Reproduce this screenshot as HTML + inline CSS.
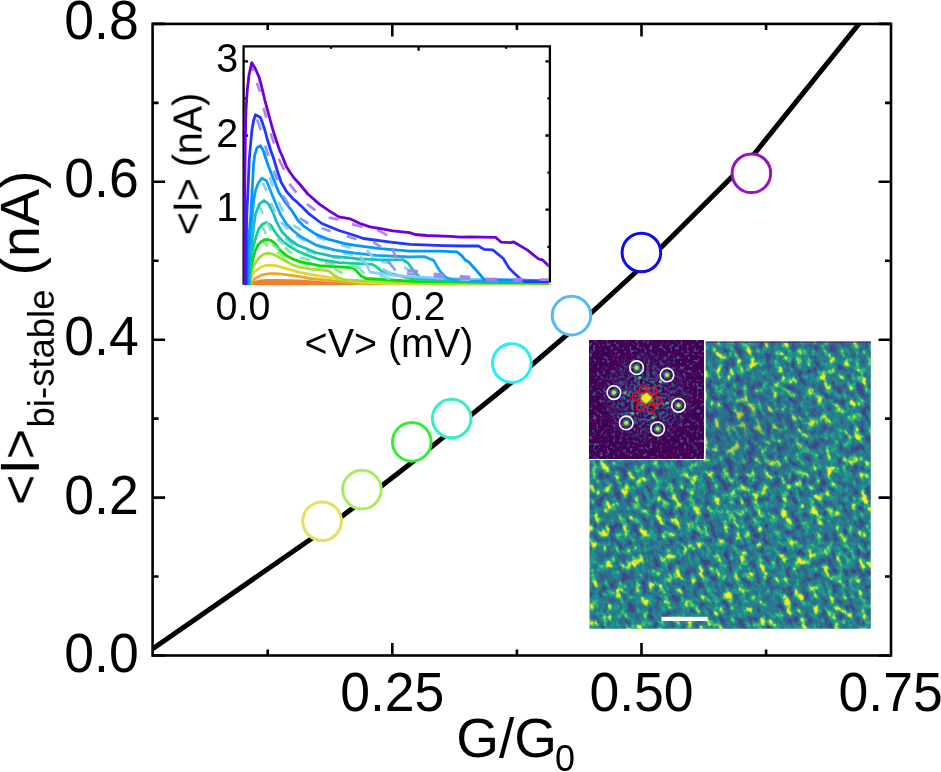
<!DOCTYPE html><html><head><meta charset="utf-8"><style>html,body{margin:0;padding:0;background:#fff;overflow:hidden}svg{display:block}text{will-change:transform}</style></head><body>
<svg width="941" height="772" viewBox="0 0 941 772">
<rect width="941" height="772" fill="#fff"/>
<defs>
<filter id="stm" x="0" y="0" width="100%" height="100%" color-interpolation-filters="sRGB"><feTurbulence type="fractalNoise" baseFrequency="0.14 0.1" numOctaves="3" seed="3"/><feColorMatrix type="matrix" values="1 0 0 0 0  1 0 0 0 0  1 0 0 0 0  0 0 0 0 1"/><feComponentTransfer><feFuncR type="linear" slope="2.1" intercept="-0.55"/><feFuncG type="linear" slope="2.1" intercept="-0.55"/><feFuncB type="linear" slope="2.1" intercept="-0.55"/></feComponentTransfer><feComponentTransfer><feFuncR type="table" tableValues="0.255 0.255 0.208 0.208 0.208 0.208 0.165 0.165 0.165 0.165 0.165 0.129 0.129 0.129 0.133 0.133 0.267 0.267 0.478 0.741 0.992"/><feFuncG type="table" tableValues="0.267 0.267 0.373 0.373 0.373 0.373 0.471 0.471 0.471 0.471 0.471 0.569 0.569 0.569 0.659 0.659 0.749 0.749 0.820 0.875 0.906"/><feFuncB type="table" tableValues="0.529 0.529 0.553 0.553 0.553 0.553 0.557 0.557 0.557 0.557 0.557 0.549 0.549 0.549 0.518 0.518 0.439 0.439 0.318 0.149 0.145"/></feComponentTransfer><feGaussianBlur stdDeviation="0.6"/></filter>
<filter id="fft" x="0" y="0" width="100%" height="100%" color-interpolation-filters="sRGB"><feTurbulence type="fractalNoise" baseFrequency="0.3" numOctaves="2" seed="3"/><feColorMatrix type="matrix" values="1 0 0 0 0  1 0 0 0 0  1 0 0 0 0  0 0 0 0 1"/><feComponentTransfer><feFuncR type="linear" slope="2.4" intercept="-0.75"/><feFuncG type="linear" slope="2.4" intercept="-0.75"/><feFuncB type="linear" slope="2.4" intercept="-0.75"/></feComponentTransfer><feComponentTransfer><feFuncR type="table" tableValues="0.267 0.267 0.267 0.267 0.267 0.267 0.267 0.267 0.267 0.267 0.267 0.282 0.282 0.255 0.255 0.208"/><feFuncG type="table" tableValues="0.004 0.004 0.004 0.004 0.004 0.004 0.004 0.004 0.004 0.004 0.004 0.141 0.141 0.267 0.267 0.373"/><feFuncB type="table" tableValues="0.329 0.329 0.329 0.329 0.329 0.329 0.329 0.329 0.329 0.329 0.329 0.459 0.459 0.529 0.529 0.553"/></feComponentTransfer></filter>
<filter id="fft2" x="0" y="0" width="100%" height="100%" color-interpolation-filters="sRGB"><feTurbulence type="fractalNoise" baseFrequency="0.32" numOctaves="2" seed="5"/><feColorMatrix type="matrix" values="1 0 0 0 0  1 0 0 0 0  1 0 0 0 0  0 0 0 0 1"/><feComponentTransfer><feFuncR type="linear" slope="2.4" intercept="-0.7"/><feFuncG type="linear" slope="2.4" intercept="-0.7"/><feFuncB type="linear" slope="2.4" intercept="-0.7"/></feComponentTransfer><feComponentTransfer><feFuncR type="table" tableValues="0.267 0.267 0.267 0.267 0.267 0.282 0.282 0.255 0.255 0.208 0.208 0.165 0.165 0.129"/><feFuncG type="table" tableValues="0.004 0.004 0.004 0.004 0.004 0.141 0.141 0.267 0.267 0.373 0.373 0.471 0.471 0.569"/><feFuncB type="table" tableValues="0.329 0.329 0.329 0.329 0.329 0.459 0.459 0.529 0.529 0.553 0.553 0.557 0.557 0.549"/></feComponentTransfer></filter>
<radialGradient id="fftrad" cx="646.2" cy="398" r="48" gradientUnits="userSpaceOnUse"><stop offset="0" stop-color="#fff" stop-opacity="1"/><stop offset="0.5" stop-color="#fff" stop-opacity="0.7"/><stop offset="1" stop-color="#fff" stop-opacity="0"/></radialGradient>
<radialGradient id="glow"><stop offset="0" stop-color="#fde725"/><stop offset="0.5" stop-color="#b5de2b" stop-opacity="0.8"/><stop offset="1" stop-color="#21918c" stop-opacity="0"/></radialGradient>
<clipPath id="inclip"><rect x="243.6" y="46.3" width="306.29999999999995" height="237.59999999999997"/></clipPath>
<clipPath id="mainclip"><rect x="152.6" y="23.9" width="738.4" height="631.6"/></clipPath>
</defs>
<clipPath id="stmclip"><rect x="589.5" y="341.5" width="281.3" height="287.2"/></clipPath>
<g clip-path="url(#stmclip)"><rect x="509.5" y="261.5" width="441.3" height="447.2" filter="url(#stm)" transform="rotate(-25 730.1 485.1)"/></g>
<radialGradient id="stmdark" cx="745" cy="430" r="75" gradientUnits="userSpaceOnUse" gradientTransform="translate(745 430) scale(1.3 0.8) translate(-745 -430)"><stop offset="0" stop-color="#3b3f8a" stop-opacity="0.28"/><stop offset="1" stop-color="#3b3f8a" stop-opacity="0"/></radialGradient>
<rect x="589.5" y="341.5" width="281.3" height="287.2" fill="url(#stmdark)"/>
<rect x="705" y="341.5" width="165.8" height="1.3" fill="#47206e" opacity="0.8"/>
<rect x="661.5" y="616.8" width="46.2" height="4.2" fill="#fff"/>
<rect x="589.1" y="340.9" width="116.6" height="119.1" fill="#fff"/>
<rect x="589.1" y="340.9" width="114.7" height="117.2" filter="url(#fft)"/>
<mask id="fftmask"><rect x="589.1" y="340.9" width="114.7" height="117.2" fill="url(#fftrad)"/></mask>
<rect x="589.1" y="340.9" width="114.7" height="117.2" filter="url(#fft2)" mask="url(#fftmask)"/>
<circle cx="646.2" cy="398.0" r="9" fill="url(#glow)" opacity="0.7"/>
<rect x="642.2" y="394.0" width="8" height="8" fill="#f5e52a" transform="rotate(45 646.2 398.0)"/>
<circle cx="639.8" cy="377.6" r="1.7" fill="#5ec962" opacity="0.9"/>
<circle cx="660.5" cy="381.8" r="1.7" fill="#5ec962" opacity="0.9"/>
<circle cx="667.2" cy="402.9" r="1.7" fill="#5ec962" opacity="0.9"/>
<circle cx="652.9" cy="417.6" r="1.7" fill="#5ec962" opacity="0.9"/>
<circle cx="632.3" cy="413.4" r="1.7" fill="#5ec962" opacity="0.9"/>
<circle cx="625.1" cy="392.8" r="1.7" fill="#5ec962" opacity="0.9"/>
<circle cx="636.6" cy="367.7" r="3.6" fill="#21918c" opacity="0.8"/>
<circle cx="636.6" cy="367.7" r="2.1" fill="#d2e21b"/>
<circle cx="636.6" cy="367.7" r="6.8" fill="none" stroke="#fff" stroke-width="1.6"/>
<circle cx="667" cy="375" r="3.6" fill="#21918c" opacity="0.8"/>
<circle cx="667" cy="375" r="2.1" fill="#d2e21b"/>
<circle cx="667" cy="375" r="6.8" fill="none" stroke="#fff" stroke-width="1.6"/>
<circle cx="678.5" cy="405.3" r="3.6" fill="#21918c" opacity="0.8"/>
<circle cx="678.5" cy="405.3" r="2.1" fill="#d2e21b"/>
<circle cx="678.5" cy="405.3" r="6.8" fill="none" stroke="#fff" stroke-width="1.6"/>
<circle cx="657.6" cy="428.8" r="3.6" fill="#21918c" opacity="0.8"/>
<circle cx="657.6" cy="428.8" r="2.1" fill="#d2e21b"/>
<circle cx="657.6" cy="428.8" r="6.8" fill="none" stroke="#fff" stroke-width="1.6"/>
<circle cx="626.2" cy="422.9" r="3.6" fill="#21918c" opacity="0.8"/>
<circle cx="626.2" cy="422.9" r="2.1" fill="#d2e21b"/>
<circle cx="626.2" cy="422.9" r="6.8" fill="none" stroke="#fff" stroke-width="1.6"/>
<circle cx="613.9" cy="392.6" r="3.6" fill="#21918c" opacity="0.8"/>
<circle cx="613.9" cy="392.6" r="2.1" fill="#d2e21b"/>
<circle cx="613.9" cy="392.6" r="6.8" fill="none" stroke="#fff" stroke-width="1.6"/>
<circle cx="643.2" cy="389.4" r="3.9" fill="none" stroke="#ff0a0a" stroke-width="1.5"/>
<circle cx="653.3" cy="391.1" r="3.9" fill="none" stroke="#ff0a0a" stroke-width="1.5"/>
<circle cx="657.5" cy="401.2" r="3.9" fill="none" stroke="#ff0a0a" stroke-width="1.5"/>
<circle cx="651.2" cy="408.4" r="3.9" fill="none" stroke="#ff0a0a" stroke-width="1.5"/>
<circle cx="640.3" cy="406.7" r="3.9" fill="none" stroke="#ff0a0a" stroke-width="1.5"/>
<circle cx="636" cy="396.6" r="3.9" fill="none" stroke="#ff0a0a" stroke-width="1.5"/>
<g clip-path="url(#mainclip)"><path d="M143.1,655.5 L322.1,531.3 L361.9,501.2 L411.8,462.6 L451.7,430.6 L511.8,382.0 L571.5,331.0 L641.4,267.0 L751.4,157.5 L870.1,10.0" fill="none" stroke="#000" stroke-width="5"/></g>
<circle cx="322.1" cy="521.2" r="19.3" fill="#fff" stroke="#e6df5c" stroke-width="3"/>
<circle cx="361.9" cy="489.6" r="19.3" fill="#fff" stroke="#a8ec5c" stroke-width="3"/>
<circle cx="411.8" cy="441.9" r="19.3" fill="#fff" stroke="#33ee33" stroke-width="3"/>
<circle cx="451.7" cy="418.5" r="19.3" fill="#fff" stroke="#33f0c0" stroke-width="3"/>
<circle cx="511.8" cy="363.1" r="19.3" fill="#fff" stroke="#22eefc" stroke-width="3"/>
<circle cx="571.5" cy="315.6" r="19.3" fill="#fff" stroke="#55b8f8" stroke-width="3"/>
<circle cx="641.4" cy="252.5" r="19.3" fill="#fff" stroke="#0c0cec" stroke-width="3"/>
<circle cx="751.4" cy="173.3" r="19.3" fill="#fff" stroke="#9810c8" stroke-width="3"/>
<g stroke="#000" stroke-width="2.6" fill="none" stroke-linecap="butt">
<rect x="152.6" y="23.9" width="738.4" height="631.6"/>
<path d="M152.6,655.5h12.5 M891.0,655.5h-12.5 M152.6,497.6h12.5 M891.0,497.6h-12.5 M152.6,339.7h12.5 M891.0,339.7h-12.5 M152.6,181.8h12.5 M891.0,181.8h-12.5 M152.6,23.9h12.5 M891.0,23.9h-12.5 M152.6,576.5h6 M891.0,576.5h-6 M152.6,418.6h6 M891.0,418.6h-6 M152.6,260.8h6 M891.0,260.8h-6 M152.6,102.9h6 M891.0,102.9h-6 M392.3,655.5v-12.5 M392.3,23.9v12.5 M641.5,655.5v-12.5 M641.5,23.9v12.5 M267.7,655.5v-6 M267.7,23.9v6 M516.9,655.5v-6 M516.9,23.9v6 M766.1,655.5v-6 M766.1,23.9v6"/>
</g>
<g font-family="Liberation Sans, sans-serif" font-size="55.5" fill="#000">
<text transform="translate(138.7,672.1) scale(0.965,1.015)" text-anchor="end">0.0</text>
<text transform="translate(138.7,514.1) scale(0.965,1.015)" text-anchor="end">0.2</text>
<text transform="translate(138.7,355.0) scale(0.965,1.015)" text-anchor="end">0.4</text>
<text transform="translate(138.7,197.1) scale(0.965,1.015)" text-anchor="end">0.6</text>
<text transform="translate(138.7,39.1) scale(0.965,1.015)" text-anchor="end">0.8</text>
<text transform="translate(392.3,711.4) scale(0.965,1.015)" text-anchor="middle">0.25</text>
<text transform="translate(641.5,711.4) scale(0.965,1.015)" text-anchor="middle">0.50</text>
<text transform="translate(890.7,711.4) scale(0.965,1.015)" text-anchor="middle">0.75</text>
</g>
<text font-family="Liberation Sans, sans-serif" font-size="55" transform="translate(456.2,756.5) scale(0.999,1)">G/G<tspan font-size="36" dx="-2" dy="14">0</tspan></text>
<g transform="translate(38.9,505.0) rotate(-90)"><text font-family="Liberation Sans, sans-serif" font-size="55.5" x="0" y="0"><tspan font-size="52" dy="-1">&lt;</tspan><tspan dy="1">I</tspan><tspan font-size="52" dy="-1">&gt;</tspan><tspan font-size="36.5" dx="1.4" dy="15.8">bi-stable</tspan><tspan dx="-1.4" dy="-14.8"> (nA)</tspan></text></g>
<rect x="243.6" y="46.3" width="306.3" height="237.6" fill="#fff"/>
<path d="M242.45,284.5H551.05" stroke="#b8b8b8" stroke-width="1.6"/>
<clipPath id="inclip2"><rect x="243.1" y="46.3" width="305.6" height="238.8"/></clipPath>
<g stroke="#000" stroke-width="2.3" fill="none">
<path d="M243.6,284.2V46.3H549.9V282.4"/>
</g>
<g stroke="#000" stroke-width="2.3" fill="none">
<path d="M243.6,209.7h4.5 M549.9,209.7h-4.5 M243.6,135.5h4.5 M549.9,135.5h-4.5 M243.6,61.3h4.5 M549.9,61.3h-4.5 M243.6,246.8h2.5 M549.9,246.8h-2.5 M243.6,172.6h2.5 M549.9,172.6h-2.5 M243.6,98.4h2.5 M549.9,98.4h-2.5 M418.6,46.3v4.5 M331.1,46.3v2.5 M506.1,46.3v2.5"/>
</g>
<g clip-path="url(#inclip2)" fill="none" stroke-width="2.8" stroke-linejoin="round" stroke-linecap="round">
<path d="M248,285.5 L250,283 L254,281 L260,279.6 L268,279 L276,278.9 L290,279.2 L300,279.6 L320,281 L345,282.6 L370,284 L400,285 L400,286 L248,286 Z" fill="#ef8030"/>
<path d="M248,285 L551,285" stroke="#ef8030" stroke-width="1"/>
<path d="M250.4,284.0 L254.9,278.5 L262.3,274.8 L269.0,273.6 L275.7,273.6 L284.0,274.4 L292.1,275.5 L300.0,276.6 L310.0,278.5 L360.0,283.6 L420.0,284.6" stroke="#e8aa2c"/>
<path d="M249.8,284.0 L251.2,278.5 L254.1,271.8 L260.8,267.3 L266.0,265.4 L271.3,265.1 L277.0,266.0 L284.6,268.1 L299.5,272.4 L310.0,274.4 L323.3,276.6 L360.0,282.1 L400.0,284.0 L551.0,284.5" stroke="#e2d636"/>
<path d="M263.0,242.0 L268.0,246.0 M277.0,252.0 L285.0,257.0 M298.0,262.0 L308.0,264.5 M334.0,268.6 L342.5,273.3" stroke="#8be870" stroke-opacity="0.95" stroke-width="2.7" stroke-linecap="butt"/>
<path d="M249.3,284.0 L250.4,274.8 L253.4,265.8 L258.6,258.4 L263.0,254.5 L268.3,253.2 L273.0,254.3 L277.2,256.2 L286.5,261.5 L292.0,264.6 L299.5,267.2 L310.0,268.8 L327.2,270.6 L330.0,271.8 L332.6,274.3 L338.9,278.2 L345.0,279.8 L360.0,280.6 L420.0,283.0 L551.0,284.0" stroke="#a0e030"/>
<path d="M248.4,284.0 L248.6,280.0 L251.2,267.3 L253.0,258.0 L255.4,250.4 L258.0,245.0 L260.9,241.9 L264.0,240.0 L267.9,239.5 L271.0,240.5 L274.1,242.6 L279.5,249.6 L286.5,255.8 L294.3,259.7 L302.0,262.2 L319.4,265.7 L338.9,266.9 L352.1,267.5 L355.9,270.4 L361.1,276.0 L366.0,278.5 L415.0,281.4 L551.0,283.0" stroke="#06dc06"/>
<path d="M262.0,226.0 L266.0,234.0 M272.0,244.0 L279.0,250.0 M285.0,247.6 L292.0,253.8 M300.0,257.5 L310.0,260.5 M325.0,263.0 L335.0,264.5 M350.0,265.5 L358.0,268.0" stroke="#7ee6a0" stroke-opacity="0.95" stroke-width="2.7" stroke-linecap="butt"/>
<path d="M249.8,284.0 L250.3,270.0 L250.8,256.6 L254.7,241.1 L258.5,229.4 L262.0,224.5 L266.3,222.4 L271.0,225.5 L276.4,234.1 L282.6,241.1 L289.6,246.5 L297.4,250.9 L303.0,253.6 L319.4,259.5 L338.9,262.6 L358.0,263.6 L371.8,264.3 L376.9,267.1 L382.8,272.1 L390.4,273.4 L410.0,278.5 L440.0,280.5 L551.0,282.2" stroke="#14d096"/>
<path d="M259.0,205.0 L262.8,214.0 M267.0,222.0 L271.0,231.0 M277.0,239.0 L284.0,244.5 M285.0,238.3 L293.5,246.1 M306.0,251.0 L316.0,254.0 M331.0,257.0 L341.0,258.5 M356.0,260.0 L366.0,260.8 M381.0,261.8 L391.0,263.0 M404.0,267.0 L411.0,272.0 M357.5,266.2 L364.3,273.8 M379.4,275.5 L390.4,278.9" stroke="#80dcd8" stroke-opacity="0.95" stroke-width="2.7" stroke-linecap="butt"/>
<path d="M249.4,284.0 L249.8,270.0 L251.5,245.0 L253.5,228.0 L255.4,214.5 L259.3,204.0 L264.0,200.5 L268.6,204.0 L271.7,210.0 L274.1,215.0 L276.4,221.7 L281.9,231.8 L289.6,239.5 L297.4,245.0 L303.0,247.3 L315.5,252.5 L332.0,256.2 L357.0,258.7 L380.3,259.9 L403.0,259.8 L408.0,263.0 L413.0,270.0 L420.0,277.5 L440.0,280.0 L551.0,282.0" stroke="#18c0bc"/>
<path d="M263.0,183.0 L266.5,191.0 M271.0,203.0 L275.0,212.0 M281.0,222.0 L288.0,229.5 M296.0,235.5 L305.0,241.0 M318.5,246.5 L328.5,249.5 M343.0,253.0 L353.0,255.0 M360.4,256.5 L366.8,265.0 L370.2,272.1 L390.0,274.8 L415.0,276.8 L440.0,278.0 L470.0,279.0 L500.0,280.0" stroke="#86ccff" stroke-opacity="0.95" stroke-width="2.7" stroke-linecap="butt"/>
<path d="M248.6,284.0 L249.3,250.0 L250.5,230.0 L252.3,215.0 L253.8,200.0 L255.4,190.7 L258.3,183.0 L261.6,178.3 L266.3,180.6 L268.3,185.0 L270.2,190.0 L275.6,203.2 L280.3,214.0 L286.5,224.0 L293.5,231.0 L300.0,236.2 L315.5,244.8 L335.0,250.2 L355.0,253.2 L376.0,255.3 L410.0,257.0 L424.3,256.6 L433.6,260.4 L439.5,270.5 L445.4,277.2 L452.1,279.7 L470.0,281.0 L551.0,281.5" stroke="#12a4f4"/>
<path d="M263.8,151.4 L266.5,161.0 M269.8,177.0 L272.8,186.8 M278.6,202.1 L283.2,211.5 M293.5,225.1 L300.9,230.2 M316.5,236.8 L325.4,240.3 M341.0,245.2 L351.0,247.6 M366.8,250.3 L373.6,257.7 M382.6,269.0 L392.0,274.0 M407.0,276.5 L418.0,277.0 M433.6,278.0 L443.7,278.2 M459.7,279.4 L470.0,279.6" stroke="#86ccff" stroke-opacity="0.95" stroke-width="2.7" stroke-linecap="butt"/>
<path d="M247.6,284.0 L248.0,250.0 L249.5,230.0 L250.8,215.0 L252.2,190.0 L253.5,165.0 L254.7,155.0 L257.0,147.8 L260.5,145.8 L263.5,151.0 L266.3,160.0 L268.6,166.7 L274.1,180.6 L278.7,192.3 L286.5,204.0 L292.4,211.5 L298.0,220.5 L304.4,226.7 L316.1,234.4 L327.7,239.1 L345.0,243.7 L355.0,245.4 L380.3,248.6 L410.0,251.1 L440.0,251.2 L457.1,251.9 L462.2,256.1 L464.7,259.5 L469.0,262.2 L476.0,270.0 L484.1,279.5 L551.0,280.7" stroke="#0096ff"/>
<path d="M257.0,119.4 L260.9,130.3 M265.1,145.8 L268.6,156.0 M273.8,170.6 L277.3,180.4 M282.8,195.6 L289.0,205.0 M299.8,218.1 L308.3,223.5 M321.9,228.2 L330.5,231.3 M346.6,236.0 L356.5,239.3 M373.3,242.2 L381.1,247.1 M387.8,260.8 L395.4,270.5 M407.0,273.5 L418.0,274.0 M433.6,276.2 L443.7,276.6 M459.7,278.3 L470.0,278.6 M486.0,280.2 L497.0,280.4 M513.0,280.8 L523.5,280.8 M539.5,281.0 L551.0,281.0" stroke="#7f8cff" stroke-opacity="0.9" stroke-width="2.7" stroke-linecap="butt"/>
<path d="M246.3,284.0 L246.4,240.0 L246.8,215.0 L248.2,185.0 L249.2,160.0 L250.5,145.0 L251.9,130.0 L253.5,121.0 L255.4,114.8 L260.5,117.5 L262.5,123.0 L264.8,130.0 L267.5,140.0 L270.6,150.0 L274.1,160.0 L277.2,170.5 L281.1,182.2 L286.5,191.5 L292.7,198.5 L297.4,202.4 L300.0,205.0 L303.0,207.8 L309.3,214.2 L321.8,223.5 L338.9,230.5 L355.0,235.5 L363.4,238.5 L388.7,241.8 L410.0,244.4 L443.7,245.6 L465.0,246.0 L478.4,246.0 L484.1,249.4 L492.7,249.9 L503.3,258.5 L509.0,268.0 L515.0,274.0 L520.5,279.0 L524.3,281.4 L551.0,281.6" stroke="#2236ff"/>
<path d="M251.5,65.5 L253.0,71.1 M256.8,82.7 L260.1,91.8 M263.6,107.8 L266.3,117.9 M270.6,133.4 L274.1,143.5 M278.7,158.9 L284.2,169.8 M289.3,183.9 L296.5,192.7 M307.0,204.1 L315.5,210.3 M328.6,217.7 L338.4,219.3 M351.9,224.1 L362.6,227.0 M377.2,229.6 L387.2,235.4 M392.1,248.0 L396.1,258.1 M407.2,270.3 L418.0,271.2 M433.6,273.9 L443.7,274.6 M459.7,276.3 L470.0,276.8 M486.0,278.8 L497.0,279.1 M513.0,279.3 L523.5,279.4 M539.5,279.6 L551.0,279.6" stroke="#b07ce8" stroke-opacity="0.95" stroke-width="2.7" stroke-linecap="butt"/>
<path d="M244.6,284.0 L244.6,230.0 L244.8,180.0 L245.3,140.0 L246.0,110.0 L247.3,90.0 L249.0,75.0 L251.7,62.7 L255.0,68.0 L258.8,76.3 L261.5,86.0 L264.8,100.0 L268.8,115.0 L272.9,130.0 L276.5,141.0 L279.5,150.0 L282.6,157.0 L286.5,166.7 L290.5,173.0 L294.3,178.3 L300.0,184.5 L307.8,194.0 L319.4,204.1 L329.5,211.1 L338.9,216.9 L350.5,218.9 L360.0,223.5 L370.0,226.8 L381.8,228.9 L392.9,230.9 L409.7,232.6 L415.0,234.5 L426.8,235.5 L450.0,236.3 L460.5,237.2 L470.0,236.8 L495.6,237.4 L501.3,242.2 L510.0,242.7 L513.8,242.0 L527.2,249.9 L538.6,259.0 L542.5,259.9 L551.0,268.0" stroke="#6e00d8"/>
</g>
<g font-family="Liberation Sans, sans-serif" font-size="39.5" fill="#000">
<text transform="translate(238.1,221.2) scale(0.999,1.04)" text-anchor="end">1</text>
<text transform="translate(238.1,147.0) scale(0.999,1.04)" text-anchor="end">2</text>
<text transform="translate(238.1,72.1) scale(0.999,1.04)" text-anchor="end">3</text>
<text transform="translate(243.0,319.9) scale(0.999,1.04)" text-anchor="middle">0.0</text>
<text transform="translate(418.1,319.9) scale(0.999,1.04)" text-anchor="middle">0.2</text>
<text transform="translate(389,356.8) scale(0.999,1.04)" text-anchor="middle">&lt;V&gt; (mV)</text>
<text transform="translate(202,164) rotate(-90) scale(0.999,1.04)" text-anchor="middle">&lt;I&gt; (nA)</text>
</g>
</svg></body></html>
